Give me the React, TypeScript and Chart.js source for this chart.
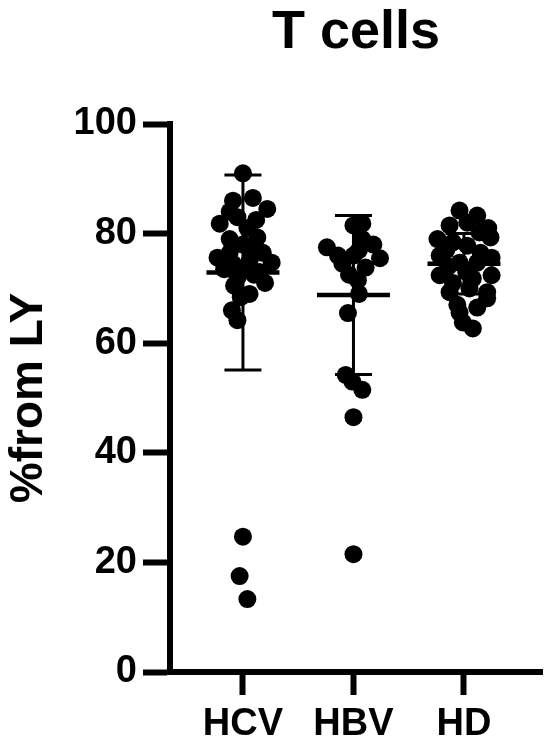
import React, { useEffect, useRef } from 'react';
import { Chart, registerables } from 'chart.js';

Chart.register(...registerables);

const categories = ['HCV', 'HBV', 'HD'];
const yTickValues = [0, 20, 40, 60, 80, 100];
const chartTitle = 'T cells';
const yAxisTitle = '%from LY';

// values (% from LY) and horizontal scatter offsets (in category units)
const hcvValues = [91, 86, 86.5, 84.5, 81.8, 83, 81, 79.3, 78, 75.6, 76.5, 76.5, 74.7, 74.5, 75, 73.3, 73, 72, 71, 69, 68.4, 66, 64.2, 84, 82.5, 79, 77, 73.5, 70.5, 72.5, 24.7, 17.5, 13.3];
const hcvJitter = [0, -0.09, 0.09, 0.22, -0.21, -0.05, 0.04, 0.13, 0, -0.23, -0.12, 0.18, 0.26, -0.09, 0.06, 0.04, 0.15, -0.05, 0.2, 0.06, -0.02, -0.1, -0.05, -0.12, 0.12, -0.12, 0.08, -0.17, -0.08, 0.1, 0, -0.03, 0.04];

const hbvValues = [81.5, 81.8, 77.5, 78, 75.5, 74.5, 73.8, 76, 76, 77, 71.5, 69, 65.5, 79, 72.5, 54.2, 53, 51.5, 46.5, 21.5];
const hbvJitter = [0, 0.08, -0.24, 0.18, 0.24, -0.1, 0.11, 0, -0.14, 0.05, 0.04, 0.05, -0.05, 0.08, -0.04, -0.07, -0.01, 0.08, 0, 0];

const hdValues = [84.2, 83.3, 81.5, 79, 79.3, 80.2, 77.8, 78.4, 76, 75.6, 74.7, 74.7, 72.4, 72.4, 71, 71.8, 69.3, 69.3, 67, 68.2, 65.6, 63.8, 62.7, 82, 76.5, 73, 70, 77, 66.5, 81, 74];
const hdJitter = [-0.04, 0.12, -0.13, -0.24, 0.24, 0.14, 0.03, -0.1, -0.22, 0.25, -0.04, 0.12, -0.22, 0.25, -0.1, 0.08, -0.13, 0.21, -0.06, 0.21, -0.04, -0.01, 0.08, 0.03, 0.15, 0.02, 0.05, -0.16, 0.12, 0.22, -0.14];

const groupMeans = [72.9, 68.8, 74.5];
const groupSDs = [17.8, 14.5, 5.5];

const FONT = '"Liberation Sans", Arial, Helvetica, sans-serif';

export default function App() {
  const canvasRef = useRef<HTMLCanvasElement | null>(null);

  useEffect(() => {
    if (!canvasRef.current) return;
    const groups = [
      { values: hcvValues, jitter: hcvJitter },
      { values: hbvValues, jitter: hbvJitter },
      { values: hdValues, jitter: hdJitter },
    ];
    const pointSets = groups.map((g, gi) => ({
      type: 'scatter' as const,
      data: g.values.map((v, i) => ({ x: gi + 1 + g.jitter[i], y: v })),
      pointRadius: 9,
      pointBackgroundColor: '#000',
      pointBorderColor: '#000',
      pointBorderWidth: 0,
      pointHoverRadius: 9,
    }));
    const sdLines = categories.map((_, i) => ({
      type: 'scatter' as const,
      showLine: true,
      data: [
        { x: i + 1, y: groupMeans[i] - groupSDs[i] },
        { x: i + 1, y: groupMeans[i] + groupSDs[i] },
      ],
      borderColor: '#000',
      borderWidth: 3,
      pointRadius: 0,
      pointHoverRadius: 0,
    }));
    const capSet = {
      type: 'scatter' as const,
      data: categories.flatMap((_, i) => [
        { x: i + 1, y: groupMeans[i] + groupSDs[i] },
        { x: i + 1, y: groupMeans[i] - groupSDs[i] },
      ]),
      pointStyle: 'line' as const,
      pointRadius: 18.5,
      pointHoverRadius: 18.5,
      pointBorderColor: '#000',
      pointBorderWidth: 3,
    };
    const meanSet = {
      type: 'scatter' as const,
      data: categories.map((_, i) => ({ x: i + 1, y: groupMeans[i] })),
      pointStyle: 'line' as const,
      pointRadius: 36.5,
      pointHoverRadius: 36.5,
      pointBorderColor: '#000',
      pointBorderWidth: 4.5,
    };

    const chart = new Chart(canvasRef.current, {
      type: 'scatter',
      data: { datasets: [...sdLines, capSet, meanSet, ...pointSets] as any },
      options: {
        animation: false,
        responsive: false,
        events: [],
        layout: { autoPadding: false, padding: { left: 0, right: 8, top: 0, bottom: 0 } },
        plugins: {
          legend: { display: false },
          tooltip: { enabled: false },
          title: {
            display: true,
            text: chartTitle,
            fullSize: false,
            color: '#000',
            font: { family: FONT, size: 54, weight: 'bold' },
            padding: { top: 1, bottom: 58.2 },
          },
        },
        scales: {
          x: {
            type: 'linear',
            min: 0.34,
            max: 3.706,
            afterBuildTicks: (s: any) => {
              s.ticks = categories.map((_, i) => ({ value: i + 1 }));
            },
            afterFit: (s: any) => {
              s.height = 76;
              s.paddingLeft = 0;
              s.paddingRight = 0;
            },
            grid: {
              display: true,
              drawOnChartArea: false,
              drawTicks: true,
              tickLength: 23,
              tickWidth: 6,
              tickColor: '#000',
            },
            border: { display: true, width: 6, color: '#000' },
            ticks: {
              color: '#000',
              padding: 7,
              autoSkip: false,
              maxRotation: 0,
              font: { family: FONT, size: 38, weight: 'bold' },
              callback: (v: any) => categories[Math.round(Number(v)) - 1] ?? '',
            },
          },
          y: {
            type: 'linear',
            min: 0,
            max: 100,
            afterBuildTicks: (s: any) => {
              s.ticks = yTickValues.map((v) => ({ value: v }));
            },
            afterFit: (s: any) => {
              s.width = 170;
            },
            grid: {
              display: true,
              drawOnChartArea: false,
              drawTicks: true,
              tickLength: 27,
              tickWidth: 6,
              tickColor: '#000',
            },
            border: { display: true, width: 6, color: '#000' },
            ticks: {
              color: '#000',
              padding: 6,
              font: { family: FONT, size: 38, weight: 'bold' },
            },
            title: {
              display: true,
              text: yAxisTitle,
              color: '#000',
              font: { family: FONT, size: 46, weight: 'bold' },
              padding: { top: 2, bottom: 0 },
            },
          },
        },
      },
    });
    return () => chart.destroy();
  }, []);

  return (
    <div style={{ position: 'fixed', left: 0, top: 0, width: 550, height: 748, background: '#fff' }}>
      <canvas ref={canvasRef} width={550} height={748} style={{ display: 'block' }} />
    </div>
  );
}
